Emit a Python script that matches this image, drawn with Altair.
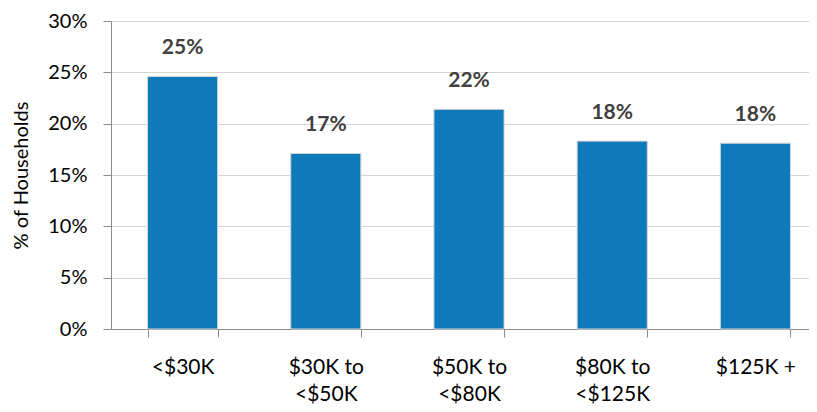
import altair as alt
import pandas as pd

categories = ["<$30K", "$30K to\n<$50K", "$50K to\n<$80K", "$80K to\n<$125K", "$125K +"]
values = [24.6, 17.1, 21.4, 18.3, 18.1]
labels = ["25%", "17%", "22%", "18%", "18%"]

df = pd.DataFrame({"cat": categories, "val": [v / 100 for v in values], "lab": labels})

FONT = "Lato"

x = alt.X("cat:N", sort=categories, title=None,
          scale=alt.Scale(paddingInner=0.51, paddingOuter=0.255, range=[0, 716]),
          axis=alt.Axis(labelAngle=0, labelFontSize=21, labelFont=FONT, labelColor="#000000",
                        labelPadding=19, labelLineHeight=27, labelBaseline="top", tickBand="extent",
                        tickSize=8, tickColor="#8c8c8c", domainColor="#8c8c8c",
                        labelExpr="split(datum.label, '\\n')"))
y = alt.Y("val:Q", title="% of Households",
          scale=alt.Scale(domain=[0, 0.30]),
          axis=alt.Axis(format=".0%", values=[0, 0.05, 0.10, 0.15, 0.20, 0.25, 0.30],
                        labelFontSize=20, labelFont=FONT, labelColor="#000000", labelPadding=16,
                        tickSize=8, tickColor="#8c8c8c", domainColor="#8c8c8c",
                        gridColor="#d4d4d4", titleFontSize=20, titleFont=FONT,
                        titleFontWeight="normal", titleColor="#000000", titlePadding=16))

bars = alt.Chart(df).mark_bar(color="#0E7ABA", stroke="#d8d8d8", strokeWidth=1).encode(x=x, y=y)
text = alt.Chart(df).mark_text(dy=-28, fontSize=21, fontWeight="bold", font=FONT,
                               color="#404040", baseline="middle").encode(
    x=alt.X("cat:N", sort=categories), y="val:Q", text="lab:N")

chart = alt.layer(bars, text).properties(
    width=698, height=308,
    autosize=alt.AutoSizeParams(type="none"),
    padding={"left": 103, "top": 13, "right": 0, "bottom": 75},
).configure_view(stroke=None)

chart.save("out.html", embed_options={"renderer": "svg", "actions": False})
